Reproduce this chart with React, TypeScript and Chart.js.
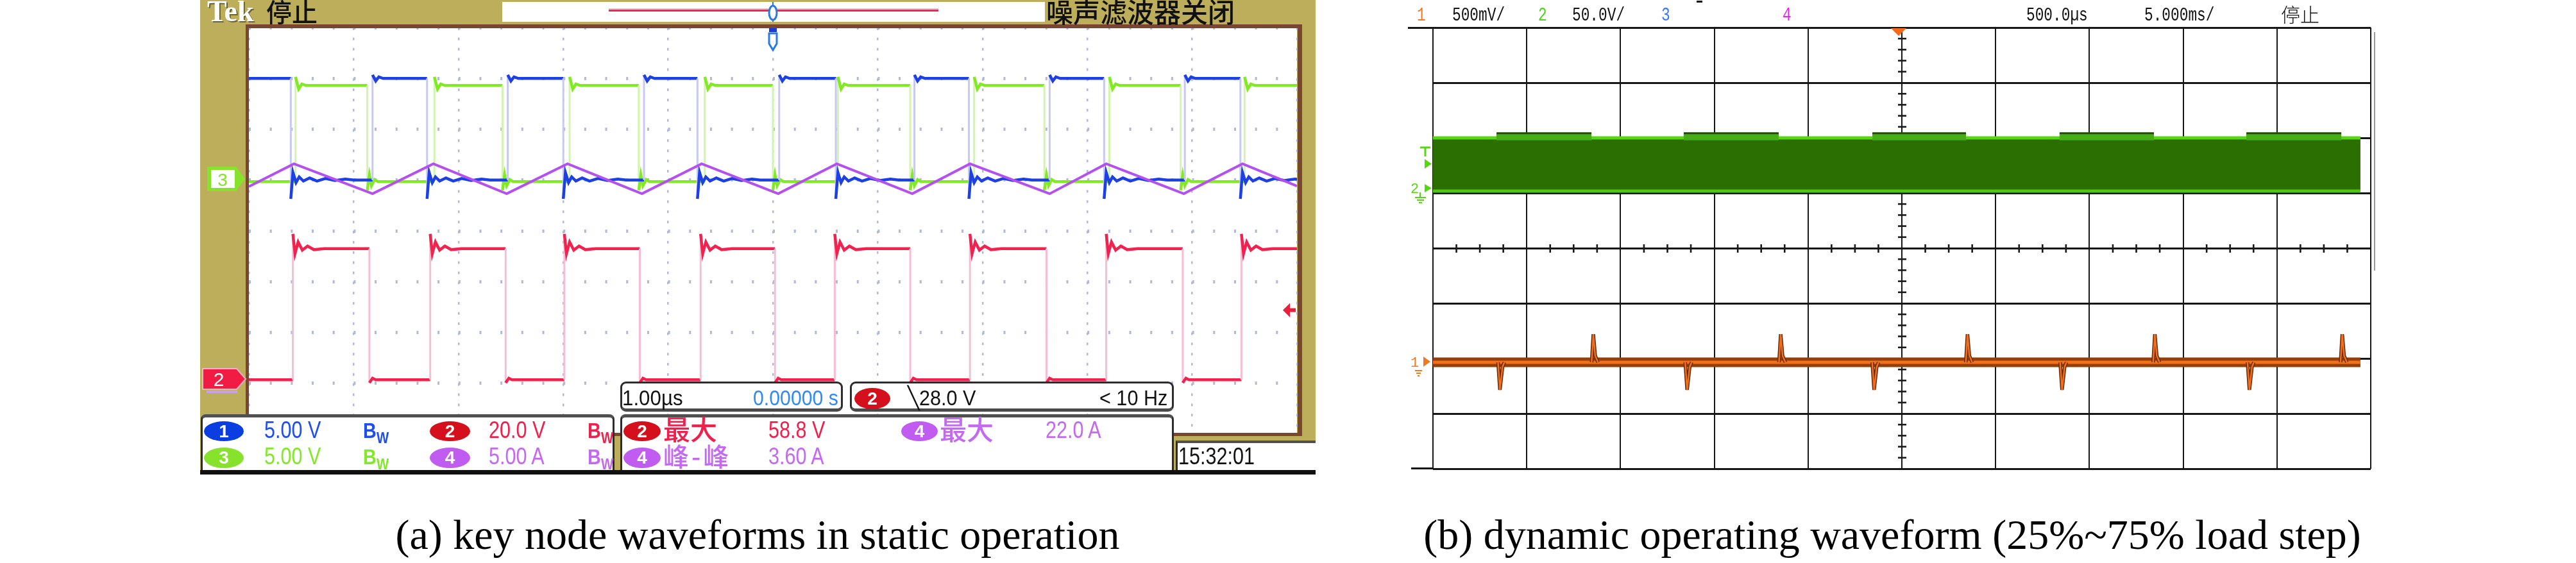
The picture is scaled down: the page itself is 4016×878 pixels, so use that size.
import React, { useEffect, useRef } from "react";
import { Chart, registerables } from "chart.js";

Chart.register(...registerables);

// ======================= DATA =======================
// Panel (a): Tek scope, static operation. Time in µs (1.00 µs/div, 10 div), vertical in screen divisions (0..8)
const A_TIME_RANGE_US = [0, 10];
const A_DIV_RANGE = [0, 8];

// CH1 (blue, 5.00 V/div)
const CH1_RISE_US = [1.18, 2.47, 3.77, 5.06, 6.35, 7.64, 8.93];
const CH1_FALL_US = [0.4, 1.7, 3.0, 4.28, 5.6, 6.87, 8.16, 9.46];
const CH1_LEVEL_DIV = [5.0, 7.0]; // low, high
const CH1_RISE_RING = [[0, 0.07], [0.03, -0.05], [0.06, 0.03], [0.1, 0]];
const CH1_FALL_RING = [[0, -0.37], [0.02, 0.15], [0.05, -0.05], [0.08, 0.06], [0.12, -0.02], [0.18, 0.04], [0.25, -0.02], [0.33, 0.03], [0.42, -0.01], [0.52, 0.02], [0.6, 0]];

// CH3 (green, 5.00 V/div)
const CH3_RISE_US = [0.445, 1.77, 3.06, 4.35, 5.62, 6.92, 8.21, 9.5];
const CH3_FALL_US = [1.13, 2.42, 3.72, 5.0, 6.31, 7.59, 8.89];
const CH3_LEVEL_DIV = [4.97, 6.86];
const CH3_RISE_RING = [[0, 0.17], [0.03, -0.07], [0.06, 0.03], [0.1, 0]];
const CH3_FALL_RING = [[0, -0.17], [0.02, 0.13], [0.04, -0.08], [0.07, 0.04], [0.1, 0]];

// CH4 (purple, 5.00 A/div) triangle vertices
const CH4_TIME_US = [0, 0.43, 1.18, 1.76, 2.46, 3.04, 3.75, 4.32, 5.05, 5.61, 6.33, 6.88, 7.64, 8.18, 8.92, 9.48, 10];
const CH4_DIV = [4.87, 5.32, 4.73, 5.32, 4.73, 5.32, 4.73, 5.32, 4.73, 5.32, 4.73, 5.32, 4.73, 5.32, 4.73, 5.32, 4.88];

// CH2 (red, 20.0 V/div)
const CH2_RISE_US = [0.42, 1.73, 3.01, 4.31, 5.59, 6.88, 8.18, 9.47];
const CH2_FALL_US = [1.15, 2.45, 3.73, 5.02, 6.31, 7.61, 8.91];
const CH2_LEVEL_DIV = [1.07, 3.65];
const CH2_RISE_RING = [[0, 0.29], [0.02, -0.1], [0.05, 0.13], [0.09, -0.03], [0.14, 0.05], [0.2, -0.02], [0.3, 0]];
const CH2_FALL_RING = [[0, -0.06], [0.03, 0.03], [0.06, 0]];

const A_TRIGGER_DIV = 2.44;

// Panel (b): dynamic load step, 5.000 ms/div (0..50 ms), vertical in divisions (0..8)
const B_TIME_RANGE_MS = [0, 50];
const B_DIV_RANGE = [0, 8];
const B_TRACE_END_MS = 49.45;
const CH2B_BUMP_START_MS = [3.39, 13.37, 23.43, 33.41, 43.37];
const CH2B_BUMP_END_MS = [8.45, 18.43, 28.42, 38.44, 48.43];
const CH2B_LEVEL_DIV = [5.035, 6.0, 6.09]; // bottom, top, top at heavy load
const CH1B_DIP_MS = [3.51, 13.49, 23.46, 33.48, 43.47];
const CH1B_PEAK_MS = [8.5, 18.49, 28.45, 38.44, 48.43];
const CH1B_LEVEL_DIV = [1.93, 1.43, 2.44]; // centre, dip min, overshoot max

// ======================= HELPERS =======================
const SANS = "'Liberation Sans', Arial, sans-serif";
const SERIF = "'Liberation Serif', 'Times New Roman', serif";
const CJK = "'Noto Sans CJK SC', 'Noto Sans', sans-serif";
const MONO = "'Liberation Mono', 'DejaVu Sans Mono', monospace";
const GOLD = "#bcae5a";

type Pt = { x: number; y: number | null };

function squareTrace(startHigh: boolean, rises: number[], falls: number[], levels: number[], riseRing: number[][], fallRing: number[][], end: number): Pt[] {
  const edges = [...rises.map((t) => ({ t, up: true })), ...falls.map((t) => ({ t, up: false }))].sort((a, b) => a.t - b.t);
  let level = startHigh ? levels[1] : levels[0];
  const pts: Pt[] = [{ x: 0, y: level }];
  for (const e of edges) {
    const target = e.up ? levels[1] : levels[0];
    const ring = e.up ? riseRing : fallRing;
    pts.push({ x: e.t, y: level });
    ring.forEach(([dt, off]) => pts.push({ x: e.t + dt, y: target + off }));
    level = target;
  }
  pts.push({ x: end, y: level });
  return pts;
}

function tekLine(data: Pt[], color: string, edge: string, order: number) {
  return {
    data,
    borderColor: color,
    borderWidth: 4.5,
    pointRadius: 0,
    tension: 0,
    fill: false,
    order,
    segment: {
      borderColor: (ctx: any) => (ctx.p0.parsed.x === ctx.p1.parsed.x ? edge : undefined),
      borderWidth: (ctx: any) => (ctx.p0.parsed.x === ctx.p1.parsed.x ? 3 : undefined),
    },
  };
}

function plain(data: Pt[], color: string, width: number, order: number, extra: any = {}) {
  return { data, borderColor: color, borderWidth: width, pointRadius: 0, tension: 0, fill: false, order, spanGaps: false, ...extra };
}

const fitX = (s: any) => { s.height = 0; };
const fitY = (s: any) => { s.width = 0; };

const tekArrow = {
  id: "tekArrow",
  afterDatasetsDraw(chart: any) {
    const { ctx, chartArea, scales } = chart;
    const y = scales.y.getPixelForValue(A_TRIGGER_DIV);
    const xr = chartArea.right;
    ctx.save();
    ctx.fillStyle = "#e8203c";
    ctx.beginPath();
    ctx.moveTo(xr - 22, y);
    ctx.lineTo(xr - 11, y - 11);
    ctx.lineTo(xr - 11, y + 11);
    ctx.closePath();
    ctx.fill();
    ctx.fillRect(xr - 12, y - 3, 10, 6);
    ctx.restore();
  },
};

const centerTicks = {
  id: "centerTicks",
  beforeDatasetsDraw(chart: any) {
    const { ctx, scales } = chart;
    const cx = scales.x.getPixelForValue((B_TIME_RANGE_MS[0] + B_TIME_RANGE_MS[1]) / 2);
    const cy = scales.y.getPixelForValue((B_DIV_RANGE[0] + B_DIV_RANGE[1]) / 2);
    ctx.save();
    ctx.fillStyle = "#1a1a1a";
    for (let i = 0; i <= 40; i++) {
      if (i % 5 === 0) continue;
      const y = scales.y.getPixelForValue(i / 5);
      ctx.fillRect(cx - 6, y - 1.3, 13, 2.6);
    }
    for (let i = 0; i <= 40; i++) {
      if (i % 4 === 0) continue;
      const x = scales.x.getPixelForValue(i * 1.25);
      ctx.fillRect(x - 1.3, cy - 6, 2.6, 13);
    }
    ctx.restore();
  },
};

function T(p: { x: number; y: number; s: number; c: string; f?: string; sx?: number; w?: any; ls?: number; children: React.ReactNode }) {
  return (
    <div
      style={{
        position: "absolute",
        left: p.x,
        top: p.y,
        fontSize: p.s,
        lineHeight: `${p.s}px`,
        color: p.c,
        fontFamily: p.f ?? SANS,
        fontWeight: p.w ?? 400,
        whiteSpace: "nowrap",
        transform: `scaleX(${p.sx ?? 1})`,
        transformOrigin: "0 0",
        letterSpacing: p.ls ?? 0,
      }}
    >
      {p.children}
    </div>
  );
}

function Badge(p: { x: number; y: number; w: number; h: number; bg: string; t: string }) {
  return (
    <div
      style={{
        position: "absolute",
        left: p.x,
        top: p.y,
        width: p.w,
        height: p.h,
        borderRadius: "50%",
        background: p.bg,
        color: "#fff",
        fontFamily: SANS,
        fontSize: 28,
        lineHeight: `${p.h}px`,
        textAlign: "center",
        fontWeight: 700,
      }}
    >
      {p.t}
    </div>
  );
}

function Bw(p: { x: number; y: number; c: string }) {
  return (
    <T x={p.x} y={p.y} s={34} c={p.c} sx={0.85} w={700}>
      B<span style={{ fontSize: 24, position: "relative", top: 8 }}>W</span>
    </T>
  );
}

const box = (x: number, y: number, w: number, h: number, extra: any = {}) => (
  <div
    style={{
      position: "absolute",
      left: x,
      top: y,
      width: w,
      height: h,
      background: "#fff",
      boxSizing: "border-box",
      ...extra,
    }}
  />
);

export default function App() {
  const refA = useRef<HTMLCanvasElement>(null);
  const refB = useRef<HTMLCanvasElement>(null);

  useEffect(() => {
    const aEnd = A_TIME_RANGE_US[1];
    const blue = squareTrace(true, CH1_RISE_US, CH1_FALL_US, CH1_LEVEL_DIV, CH1_RISE_RING, CH1_FALL_RING, aEnd);
    const green = squareTrace(false, CH3_RISE_US, CH3_FALL_US, CH3_LEVEL_DIV, CH3_RISE_RING, CH3_FALL_RING, aEnd);
    const red = squareTrace(false, CH2_RISE_US, CH2_FALL_US, CH2_LEVEL_DIV, CH2_RISE_RING, CH2_FALL_RING, aEnd);
    const purple = CH4_TIME_US.map((t, i) => ({ x: t, y: CH4_DIV[i] }));

    const chartA = new Chart(refA.current as HTMLCanvasElement, {
      type: "line",
      data: {
        datasets: [
          tekLine(red, "#f2224e", "#f8bdd4", 4),
          tekLine(green, "#82ea22", "#d2f4ae", 3),
          tekLine(blue, "#1d3fe6", "#c6c9f2", 2),
          { ...tekLine(purple, "#b44ff0", "#b44ff0", 1), borderWidth: 4 },
        ] as any,
      },
      options: {
        animation: false,
        responsive: false,
        events: [],
        layout: { padding: 6 },
        plugins: { legend: { display: false }, tooltip: { enabled: false } },
        scales: {
          x: {
            type: "linear",
            min: A_TIME_RANGE_US[0],
            max: A_TIME_RANGE_US[1],
            ticks: { display: false, stepSize: 1 },
            grid: { color: "#b3b8d6", lineWidth: 2.5, drawTicks: false },
            border: { display: false, dash: [4, 11.85] },
            afterFit: fitX,
          },
          y: {
            type: "linear",
            min: A_DIV_RANGE[0],
            max: A_DIV_RANGE[1],
            ticks: { display: false, stepSize: 1 },
            grid: { color: "#b3b8d6", lineWidth: 5, drawTicks: false },
            border: { display: false, dash: [3, 29.68] },
            afterFit: fitY,
          },
        },
      } as any,
      plugins: [tekArrow],
    });

    // Panel (b)
    const [gBot, gTop, gBump] = CH2B_LEVEL_DIV;
    const fillTop: Pt[] = [{ x: 0, y: gTop }];
    const bumpBody: Pt[] = [];
    const bumpEdge: Pt[] = [];
    CH2B_BUMP_START_MS.forEach((s, i) => {
      const e = CH2B_BUMP_END_MS[i];
      fillTop.push({ x: s, y: gTop }, { x: s, y: gBump }, { x: e, y: gBump }, { x: e, y: gTop });
      bumpBody.push({ x: s, y: (gTop + gBump) / 2 - 0.03 }, { x: e, y: (gTop + gBump) / 2 - 0.03 }, { x: e + 0.01, y: null });
      bumpEdge.push({ x: s, y: gBump - 0.005 }, { x: e, y: gBump - 0.005 }, { x: e + 0.01, y: null });
    });
    fillTop.push({ x: B_TRACE_END_MS, y: gTop });
    const line = (y: number): Pt[] => [{ x: 0, y }, { x: B_TRACE_END_MS, y }];

    const [oC, oMin, oMax] = CH1B_LEVEL_DIV;
    const spikes: Pt[] = [];
    const events = [...CH1B_DIP_MS.map((t) => ({ t, up: false })), ...CH1B_PEAK_MS.map((t) => ({ t, up: true }))].sort((a, b) => a.t - b.t);
    events.forEach(({ t, up }) => {
      if (up) {
        spikes.push({ x: t - 0.04, y: oC }, { x: t + 0.05, y: oMax }, { x: t + 0.15, y: oC + 0.12 }, { x: t + 0.3, y: oC }, { x: t + 0.31, y: null });
      } else {
        spikes.push({ x: t - 0.04, y: oC }, { x: t + 0.06, y: oMin }, { x: t + 0.2, y: oC - 0.08 }, { x: t + 0.3, y: oC }, { x: t + 0.31, y: null });
      }
    });

    const chartB = new Chart(refB.current as HTMLCanvasElement, {
      type: "line",
      data: {
        datasets: [
          plain(spikes, "#f07020", 2.5, 1),
          plain(spikes, "#6b2a04", 5.5, 2),
          plain(line(oC), "#f5701a", 5, 3),
          plain(line(oC), "#93400a", 15, 4),
          plain(bumpEdge, "#1f4d08", 3, 5),
          plain(bumpBody, "#47ad16", 10, 6),
          plain(line(gBot), "#4fc712", 5, 7),
          plain(line(gTop), "#57d70f", 5, 8),
          plain(fillTop, "rgba(0,0,0,0)", 0, 9, { fill: { value: gBot }, backgroundColor: "#2b6f03" }),
        ] as any,
      },
      options: {
        animation: false,
        responsive: false,
        events: [],
        layout: { padding: 8 },
        plugins: { legend: { display: false }, tooltip: { enabled: false } },
        scales: {
          x: {
            type: "linear",
            min: B_TIME_RANGE_MS[0],
            max: B_TIME_RANGE_MS[1],
            ticks: { display: false, stepSize: 5 },
            grid: { color: "#161616", lineWidth: 2, drawTicks: false },
            border: { display: false },
            afterFit: fitX,
          },
          y: {
            type: "linear",
            min: B_DIV_RANGE[0],
            max: B_DIV_RANGE[1],
            ticks: { display: false, stepSize: 1 },
            grid: { color: "#161616", lineWidth: 3, drawTicks: false },
            border: { display: false },
            afterFit: fitY,
          },
        },
      } as any,
      plugins: [centerTicks],
    });

    return () => {
      chartA.destroy();
      chartB.destroy();
    };
  }, []);

  const brown = "#7a4630";
  return (
    <div style={{ position: "absolute", left: 0, top: 0, width: 4016, height: 878, background: "#fff", overflow: "hidden" }}>
      {/* ---------- Panel (a) ---------- */}
      <div style={{ position: "absolute", left: 312, top: 0, width: 1739, height: 733, background: GOLD }} />
      <div style={{ position: "absolute", left: 388, top: 43, width: 1634, height: 634, background: "#fff" }} />
      <canvas ref={refA} width={1646} height={646} style={{ position: "absolute", left: 382, top: 37, width: 1646, height: 646 }} />
      <div style={{ position: "absolute", left: 383, top: 38, width: 1647, height: 6, background: brown }} />
      <div style={{ position: "absolute", left: 383, top: 38, width: 5, height: 642, background: brown }} />
      <div style={{ position: "absolute", left: 2023, top: 38, width: 7, height: 642, background: brown }} />
      <div style={{ position: "absolute", left: 383, top: 675, width: 1647, height: 5, background: brown }} />

      <T x={323} y={-5} s={46} c="#fff" f={SERIF} w={700}>
        <span style={{ textShadow: "2px 2px 0 #6b6233" }}>Tek</span>
      </T>
      <T x={415} y={-3} s={40} c="#111" f={CJK} w={500}>停止</T>
      <div style={{ position: "absolute", left: 783, top: 3, width: 846, height: 31, background: "#fff" }} />
      <T x={1631} y={-4} s={42} c="#111" f={CJK} w={500}>噪声滤波器关闭</T>

      {/* info boxes */}
      {box(967, 595, 347, 47, { border: "3px solid #2c2c2c", borderBottom: "5px solid #4a4a4a", borderRadius: 9 })}
      {box(1325, 595, 505, 47, { border: "3px solid #2c2c2c", borderBottom: "5px solid #4a4a4a", borderRadius: 9 })}
      {box(313, 646, 645, 87, { borderTop: "5px solid #505050", borderLeft: "3px solid #2c2c2c", borderRight: "3px solid #2c2c2c", borderRadius: "8px 8px 0 0" })}
      {box(967, 646, 863, 87, { borderTop: "5px solid #505050", borderLeft: "3px solid #2c2c2c", borderRight: "3px solid #2c2c2c", borderRadius: "8px 8px 0 0" })}
      {box(1833, 687, 218, 46, { borderTop: "4px solid #505050", borderLeft: "3px solid #2c2c2c" })}
      <div style={{ position: "absolute", left: 312, top: 733, width: 1739, height: 7, background: "#111" }} />

      <T x={970} y={603} s={34} c="#111" sx={0.92}>1.00µs</T>
      <T x={1174} y={603} s={34} c="#2f8af5" sx={0.89}>0.00000 s</T>
      <Badge x={1332} y={605} w={56} h={33} bg="#d4101c" t="2" />
      <T x={1415} y={603} s={34} c="#111" sx={0.9}>╲28.0 V</T>
      <T x={1714} y={603} s={34} c="#111" sx={0.9}>&lt; 10 Hz</T>

      <Badge x={318} y={657} w={62} h={31} bg="#0a3ee0" t="1" />
      <T x={412} y={653} s={36} c="#1e4ef0" sx={0.85}>5.00 V</T>
      <Bw x={566} y={654} c="#1e4ef0" />
      <Badge x={670} y={657} w={63} h={31} bg="#d4101c" t="2" />
      <T x={762} y={653} s={36} c="#f0204c" sx={0.85}>20.0 V</T>
      <Bw x={916} y={654} c="#f0204c" />
      <Badge x={318} y={698} w={62} h={32} bg="#86e22a" t="3" />
      <T x={412} y={694} s={36} c="#84e82a" sx={0.85}>5.00 V</T>
      <Bw x={566} y={695} c="#84e82a" />
      <Badge x={670} y={698} w={63} h={32} bg="#c05cf0" t="4" />
      <T x={762} y={694} s={36} c="#c46af2" sx={0.85}>5.00 A</T>
      <Bw x={916} y={695} c="#c46af2" />

      <Badge x={972} y={657} w={58} h={31} bg="#d4101c" t="2" />
      <T x={1034} y={647} s={42} c="#f0204c" f={CJK} w={500}>最大</T>
      <T x={1198} y={653} s={36} c="#f0204c" sx={0.85}>58.8 V</T>
      <Badge x={1405} y={657} w={57} h={31} bg="#c05cf0" t="4" />
      <T x={1465} y={647} s={42} c="#c46af2" f={CJK} w={500}>最大</T>
      <T x={1630} y={653} s={36} c="#c46af2" sx={0.85}>22.0 A</T>
      <Badge x={972} y={698} w={58} h={32} bg="#c05cf0" t="4" />
      <T x={1034} y={690} s={40} c="#c46af2" f={CJK} w={500} ls={4}>峰-峰</T>
      <T x={1198} y={694} s={36} c="#c46af2" sx={0.85}>3.60 A</T>
      <T x={1837} y={694} s={36} c="#111" sx={0.85}>15:32:01</T>

      {/* ---------- Panel (b) ---------- */}
      <canvas ref={refB} width={1478} height={704} style={{ position: "absolute", left: 2226, top: 35, width: 1478, height: 704 }} />
      <div style={{ position: "absolute", left: 2195, top: 42, width: 40, height: 3, background: "#161616" }} />
      <div style={{ position: "absolute", left: 2200, top: 729, width: 35, height: 3, background: "#161616" }} />
      <div style={{ position: "absolute", left: 3701, top: 50, width: 2, height: 372, background: "#9a9a9a" }} />

      <T x={2209} y={9} s={30} c="#f07828" f={MONO} sx={0.76}>1</T>
      <T x={2264} y={9} s={30} c="#111" f={MONO} sx={0.76}>500mV/</T>
      <T x={2398} y={9} s={30} c="#50d020" f={MONO} sx={0.76}>2</T>
      <T x={2451} y={9} s={30} c="#111" f={MONO} sx={0.76}>50.0V/</T>
      <T x={2590} y={9} s={30} c="#3c78f0" f={MONO} sx={0.76}>3</T>
      <T x={2779} y={9} s={30} c="#f020f0" f={MONO} sx={0.76}>4</T>
      <div style={{ position: "absolute", left: 2645, top: 1, width: 9, height: 3, background: "#111" }} />
      <T x={3159} y={9} s={30} c="#111" f={MONO} sx={0.76}>500.0µs</T>
      <T x={3343} y={9} s={30} c="#111" f={MONO} sx={0.76}>5.000ms/</T>
      <T x={3556} y={6} s={30} c="#111" f={CJK} w={300}>停止</T>

      {/* ---------- markers ---------- */}
      <svg width={4016} height={878} style={{ position: "absolute", left: 0, top: 0 }}>
        {/* panel a: channel markers */}
        <polygon points="323,260 368,260 382,279 368,298 323,298" fill="#86e22a" />
        <rect x={329} y={265} width={37} height={28} fill="#fff" />
        <text x={347} y={290} fill="#86e22a" fontSize={28} fontFamily={SANS} textAnchor="middle">3</text>
        <polygon points="316,575 369,575 383,591 369,607 316,607" fill="#f01c44" stroke="#f7b0c4" strokeWidth={2} />
        <text x={341} y={602} fill="#fff" fontSize={30} fontFamily={SANS} textAnchor="middle">2</text>
        <rect x={322} y={609} width={48} height={4} fill="#c9a0f0" />
        {/* record bar + trigger position */}
        <rect x={949} y={13} width={514} height={2} fill="#f7b6ca" />
        <rect x={949} y={15} width={514} height={3} fill="#f0285a" />
        <line x1={1205} y1={3} x2={1205} y2={34} stroke="#2a7ae6" strokeWidth={2} />
        <ellipse cx={1205} cy={20} rx={6} ry={11} fill="#fff" stroke="#2a7ae6" strokeWidth={3} />
        <rect x={1199} y={44} width={12} height={6} fill="#1a3ad8" />
        <path d="M1199,52 L1211,52 L1211,68 L1205,78 L1199,68 Z" fill="#fff" stroke="#2a7ae6" strokeWidth={3} />
        {/* panel b markers */}
        <line x1={2214} y1={230} x2={2230} y2={230} stroke="#57d70f" strokeWidth={3} />
        <line x1={2222} y1={230} x2={2222} y2={244} stroke="#57d70f" strokeWidth={3} />
        <polygon points="2221,248 2232,255.5 2221,263" fill="#57d70f" />
        <text x={2199} y={301} fill="#57d70f" fontSize={22} fontFamily={MONO}>2</text>
        <polygon points="2221,287 2232,293.5 2221,300" fill="#57d70f" />
        <line x1={2214} y1={300} x2={2214} y2={308} stroke="#57d70f" strokeWidth={2} />
        <line x1={2206} y1={308} x2={2223} y2={308} stroke="#57d70f" strokeWidth={2} />
        <line x1={2209} y1={312} x2={2220} y2={312} stroke="#57d70f" strokeWidth={2} />
        <line x1={2212} y1={316} x2={2217} y2={316} stroke="#57d70f" strokeWidth={2} />
        <text x={2199} y={572} fill="#f07a20" fontSize={22} fontFamily={MONO}>1</text>
        <polygon points="2219,556 2230,564 2219,572" fill="#f07a20" />
        <line x1={2206} y1={578} x2={2217} y2={578} stroke="#f07a20" strokeWidth={2} />
        <line x1={2208} y1={582} x2={2215} y2={582} stroke="#f07a20" strokeWidth={2} />
        <line x1={2210} y1={586} x2={2213} y2={586} stroke="#f07a20" strokeWidth={2} />
        <polygon points="2948,44 2972,44 2960,56" fill="#f06a1a" />
      </svg>

      {/* ---------- captions ---------- */}
      <div style={{ position: "absolute", left: 481, top: 801, width: 1400, textAlign: "center", fontFamily: SERIF, fontSize: 66, lineHeight: "66px", color: "#000", whiteSpace: "nowrap" }}>
        (a) key node waveforms in static operation
      </div>
      <div style={{ position: "absolute", left: 2150, top: 801, width: 1600, textAlign: "center", fontFamily: SERIF, fontSize: 66, lineHeight: "66px", color: "#000", whiteSpace: "nowrap" }}>
        (b) dynamic operating waveform (25%~75% load step)
      </div>
    </div>
  );
}
